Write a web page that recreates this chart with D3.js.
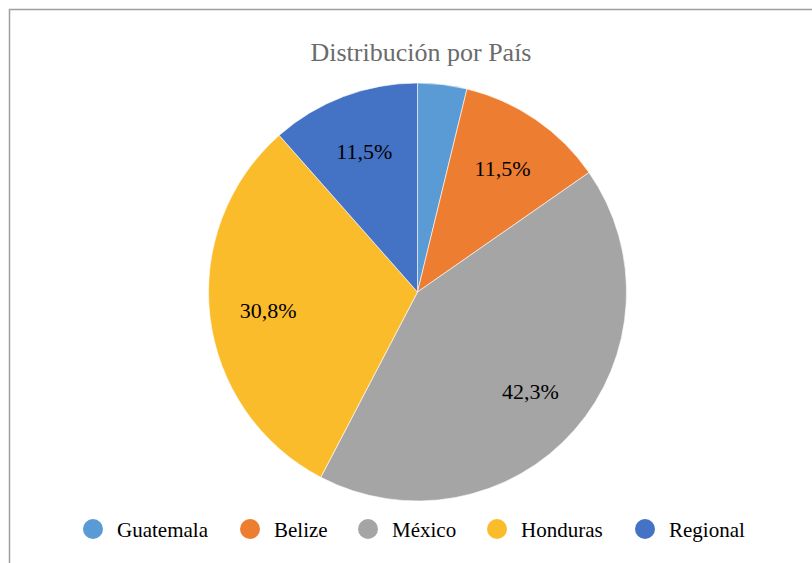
<!DOCTYPE html>
<html><head><meta charset="utf-8">
<script src="https://cdn.jsdelivr.net/npm/d3@7"></script>
<style>html,body{margin:0;padding:0;background:#fff;} svg text{font-family:"Liberation Serif";}</style>
</head><body>
<svg id="chart" width="812" height="563"></svg>
<script>
const categories = ["Guatemala", "Belize", "México", "Honduras", "Regional"];
const values = [3.8, 11.5, 42.3, 30.8, 11.5];
const labels = ["", "11,5%", "42,3%", "30,8%", "11,5%"];
const colors = ["#5B9BD5", "#ED7D31", "#A5A5A5", "#FBBC2C", "#4472C4"];
const title = "Distribución por País";

const svg = d3.select("#chart");
const W = 812, H = 563;
const serifFont = '"Liberation Serif"';

svg.append("rect").attr("x", 9.5).attr("y", 9.5).attr("width", W).attr("height", H)
  .attr("fill", "#fff").attr("stroke", "#9f9f9f").attr("stroke-width", 1.5);

svg.append("text").attr("x", 421).attr("y", 61).attr("text-anchor", "middle")
  .style("font-family", serifFont).attr("font-size", 26).attr("fill", "#6b6b6b").text(title);

const cx = 417.5, cy = 292, R = 209;
const pie = d3.pie().value(d => d).sort(null);
const arcs = pie(values);
const arc = d3.arc().innerRadius(0).outerRadius(R);
const labelArc = d3.arc().innerRadius(R * 0.72).outerRadius(R * 0.72);

const g = svg.append("g").attr("transform", `translate(${cx},${cy})`);
g.selectAll("path").data(arcs).join("path")
  .attr("d", arc).attr("fill", (d, i) => colors[i])
  .attr("stroke", "#fff").attr("stroke-width", 0.6);

g.selectAll("text").data(arcs).join("text")
  .attr("transform", d => `translate(${labelArc.centroid(d)})`)
  .attr("text-anchor", "middle").attr("dy", "0.35em")
  .style("font-family", serifFont).attr("font-size", 22).attr("fill", "#000")
  .text((d, i) => labels[i]);

// legend
const legend = svg.append("g");
const circleX = [93, 250, 368, 497, 645];
const items = legend.selectAll("g").data(categories).join("g")
  .attr("transform", (d, i) => `translate(${circleX[i]},529)`);
items.append("circle").attr("r", 10).attr("fill", (d, i) => colors[i]);
items.append("text").attr("x", 24).attr("y", 8)
  .style("font-family", serifFont).attr("font-size", 21).attr("fill", "#000").text(d => d);
</script>
</body></html>
